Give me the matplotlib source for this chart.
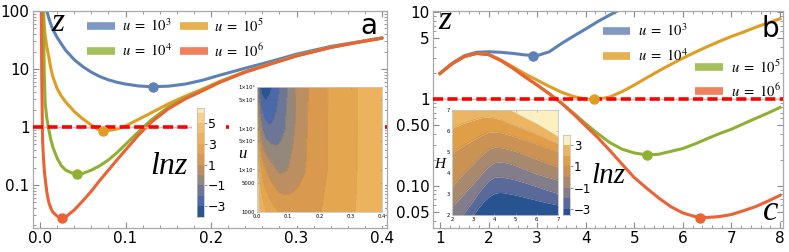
import numpy as np
import matplotlib
matplotlib.use('Agg')
import matplotlib.pyplot as plt
from matplotlib.ticker import FixedLocator, NullFormatter, MultipleLocator, LogLocator
from matplotlib.patches import Rectangle

plt.rcParams['mathtext.fontset'] = 'stix'
plt.rcParams['font.family'] = ['DejaVu Sans']

W, H = 789, 252

# ---------------- panel a data (z vs x) ----------------
xa = [0.001, 0.002, 0.003, 0.004, 0.005, 0.006, 0.008, 0.01, 0.0125, 0.015,
      0.02, 0.025, 0.03, 0.04, 0.05, 0.06, 0.07, 0.08, 0.09, 0.1,
      0.115, 0.13, 0.15, 0.17, 0.19, 0.21, 0.24, 0.27, 0.3, 0.34, 0.37, 0.4]
za_blue = [20000, 8000, 2000, 800, 400, 160, 100, 78, 60, 48,
           35, 27, 21, 14.5, 11, 8.8, 7.4, 6.5, 5.9, 5.5,
           5.1, 4.95, 5.05, 5.5, 6.4, 7.8, 10.3, 13.5, 18, 24.5, 29, 34.5]
za_orange = [8000, 2000, 400, 110, 55, 38, 24, 17, 10.5, 7.3,
             4.6, 3.4, 2.7, 1.85, 1.38, 1.08, 0.87, 0.87, 0.92, 1.04,
             1.35, 1.75, 2.5, 3.4, 4.5, 6.1, 9.0, 12.4, 17, 23.7, 28.7, 34]
za_green = [50000, 1500, 400, 80, 8, 2.6, 1.4, 0.95, 0.62, 0.45,
            0.29, 0.215, 0.18, 0.155, 0.158, 0.18, 0.215, 0.27, 0.36, 0.5,
            0.82, 1.32, 2.2, 3.2, 4.3, 5.95, 8.9, 12.3, 16.9, 23.6, 28.6, 34]
za_red = [2000, 8, 0.6, 0.3, 0.18, 0.13, 0.075, 0.052, 0.04, 0.034,
          0.029, 0.0266, 0.028, 0.037, 0.053, 0.078, 0.12, 0.18, 0.27, 0.4,
          0.72, 1.2, 2.05, 3.05, 4.2, 5.85, 8.8, 12.2, 16.8, 23.5, 28.5, 34]
mins_a_x = [0.132, 0.074, 0.043, 0.0253]
mins_a_z = [4.95, 0.853, 0.153, 0.0266]
legend_a = [r'$u\ =\ 10^{3}$', r'$u\ =\ 10^{5}$', r'$u\ =\ 10^{4}$', r'$u\ =\ 10^{6}$']
# u values of the rows used in the inset (ordering seen in the inset contours)
inset_a_logu = [3, 4, 5, 6]

# ---------------- panel b data ----------------
xb = [1.0, 1.25, 1.5, 1.75, 2.0, 2.25, 2.5, 2.75, 3.0, 3.25, 3.5, 3.75, 4.0, 4.25,
      4.5, 4.75, 5.0, 5.25, 5.5, 5.75, 6.0, 6.25, 6.5, 6.75, 7.0, 7.25, 7.5, 7.75, 8.0]
zb_blue = [1.97, 2.58, 3.15, 3.45, 3.5, 3.45, 3.35, 3.22, 3.16, 3.5, 4.35, 5.3, 6.4,
           7.8, 9.3, 11, 13]
zb_orange = [1.97, 2.55, 3.08, 3.35, 3.27, 2.82, 2.35, 1.95, 1.65, 1.4, 1.2, 1.07, 1.0,
             0.99, 1.06, 1.22, 1.45, 1.75, 2.1, 2.5, 2.95, 3.45, 4.0, 4.6, 5.25, 5.9,
             6.7, 7.5, 8.4]
zb_green = [1.97, 2.55, 3.08, 3.35, 3.25, 2.78, 2.27, 1.8, 1.45, 1.15, 0.9, 0.69, 0.52,
            0.4, 0.315, 0.265, 0.24, 0.228, 0.232, 0.25, 0.27, 0.305, 0.35, 0.4, 0.45,
            0.52, 0.6, 0.69, 0.8]
zb_red = [1.97, 2.55, 3.08, 3.35, 3.25, 2.78, 2.27, 1.8, 1.45, 1.15, 0.9, 0.67, 0.49,
          0.36, 0.255, 0.178, 0.125, 0.095, 0.073, 0.058, 0.049, 0.0445, 0.0435,
          0.0445, 0.047, 0.052, 0.058, 0.067, 0.078]
mins_b_x = [2.91, 4.17, 5.26, 6.35]
mins_b_z = [3.15, 0.99, 0.227, 0.0434]
legend_b = [r'$u\ =\ 10^{3}$', r'$u\ =\ 10^{4}$', r'$u\ =\ 10^{5}$', r'$u\ =\ 10^{6}$']

# ---------------- inset b: contour lines H(x) for levels -3..3 ----------------
ib_x = [2, 2.5, 3, 3.25, 3.5, 3.75, 4, 4.25, 4.5, 4.75, 5, 5.5, 6, 6.5, 7]
ib_lm3 = [1.0, 1.5, 2.0, 2.35, 2.65, 2.88, 3.03, 3.08, 3.05, 3.0, 2.95, 2.83, 2.7, 2.58, 2.48]
ib_lm2 = [1.5, 2.0, 2.7, 3.07, 3.37, 3.65, 3.8, 3.82, 3.78, 3.73, 3.67, 3.52, 3.35, 3.18, 3.03]
ib_lm1 = [2.4, 2.95, 3.5, 3.8, 4.08, 4.35, 4.5, 4.53, 4.5, 4.43, 4.35, 4.15, 3.95, 3.8, 3.67]
ib_l0 = [3.35, 3.95, 4.46, 4.72, 4.95, 5.15, 5.23, 5.22, 5.17, 5.1, 5.03, 4.85, 4.65, 4.47, 4.3]
ib_l1 = [4.94, 5.3, 5.57, 5.72, 5.85, 5.95, 5.96, 5.93, 5.87, 5.8, 5.72, 5.55, 5.38, 5.2, 5.02]
ib_l2 = [6.13, 6.35, 6.52, 6.6, 6.66, 6.67, 6.62, 6.55, 6.45, 6.35, 6.25, 6.05, 5.85, 5.62, 5.4]
ib_l3 = [7.6, 7.6, 7.6, 7.6, 7.6, 7.5, 7.4, 7.27, 7.12, 7.0, 6.87, 6.6, 6.35, 6.05, 5.75]

# ---------------- styling ----------------
C_BLUE, C_ORANGE, C_GREEN, C_RED = '#5E81B5', '#E19C24', '#8FB032', '#EB6235'
cols_a = ['#28548F', '#4A69A6', '#6E7698', '#94877C', '#BB8F62', '#D99A4F',
          '#E5A650', '#ECB25E', '#F0BE72', '#F5CF8E', '#FBE9B8']
edges_a = [-4.05, -3, -2, -1, 0, 1, 2, 3, 4, 5, 6, 6.45]
cols_b = ['#285391', '#58699A', '#837C8A', '#A8896E', '#CA9353', '#E19E48',
          '#ECB563', '#FCEFC0']
edges_b = [-3.56, -3, -2, -1, 0, 1, 2, 3, 3.93]
FRAME = '#A8A8A8'


def rect(x0, y0, x1, y1):
    return [x0 / W, 1 - y1 / H, (x1 - x0) / W, (y1 - y0) / H]


def ftext(px, py, s, **kw):
    fig.text(px / W, 1 - py / H, s, ha='center', va='center', **kw)


def style_main(ax):
    for sp in ax.spines.values():
        sp.set_color(FRAME)
        sp.set_linewidth(0.9)
    ax.tick_params(which='both', direction='in', top=True, right=True,
                   color='#8A8A8A', labelsize=11, pad=2.5)
    ax.tick_params(which='major', length=4, width=0.8)
    ax.tick_params(which='minor', length=2, width=0.6)


fig = plt.figure(figsize=(W / 100, H / 100), dpi=100)

# ================= panel a =================
axa = fig.add_axes(rect(33, 11, 387, 228))
axa.set_yscale('log')
for z, c in zip([za_blue, za_orange, za_green, za_red], [C_BLUE, C_ORANGE, C_GREEN, C_RED]):
    axa.plot(xa, z, color=c, lw=2.2, zorder=2, solid_capstyle='round')
axa.axhline(1, color='#FFB0B0', lw=1.0, zorder=3)
axa.axhline(1, color='#FF0000', lw=2.6, dashes=(2.8, 1.2), zorder=3)
for mx, mz, c in zip(mins_a_x, mins_a_z, [C_BLUE, C_ORANGE, C_GREEN, C_RED]):
    axa.plot([mx], [mz], 'o', color=c, ms=6.5, zorder=4)
axa.set_xlim(-0.0082, 0.4058)
axa.set_ylim(0.0181, 100)
axa.xaxis.set_major_locator(FixedLocator([0, 0.1, 0.2, 0.3, 0.4]))
axa.set_xticklabels(['0.0', '0.1', '0.2', '0.3', '0.4'])
axa.xaxis.set_minor_locator(MultipleLocator(0.02))
axa.yaxis.set_major_locator(FixedLocator([0.1, 1, 10, 100]))
axa.set_yticklabels(['0.1', '1', '10', '100'])
axa.yaxis.set_minor_locator(LogLocator(base=10, subs=np.arange(2, 10)))
axa.yaxis.set_minor_formatter(NullFormatter())
style_main(axa)

# legend a
leg_pos_a = [(0.153, 0.232, 0.931, 0.25), (0.415, 0.494, 0.931, 0.512),
             (0.153, 0.232, 0.816, 0.25), (0.415, 0.494, 0.816, 0.512)]
for (x0, x1, y, tx), lab, c in zip(leg_pos_a, legend_a, [C_BLUE, C_ORANGE, C_GREEN, C_RED]):
    axa.plot([x0, x1], [y, y], transform=axa.transAxes, color=c, lw=5.5, alpha=0.8,
             solid_capstyle='butt', zorder=6, clip_on=False)
    axa.text(tx, y, lab, transform=axa.transAxes, fontsize=10.5, va='center', ha='left', zorder=6)

# white backgrounds for inset a and its colour bar
fig.add_artist(Rectangle((192 / W, 1 - 221 / H), 34 / W, 117 / H, transform=fig.transFigure,
                         facecolor='white', edgecolor='none', zorder=2))
fig.add_artist(Rectangle((229 / W, 1 - 226 / H), 156 / W, 143 / H, transform=fig.transFigure,
                         facecolor='white', edgecolor='none', zorder=2))

# inset a contour
axia = fig.add_axes(rect(257, 87, 382, 212), zorder=3)
Za = np.log(np.array([za_blue, za_orange, za_green, za_red], dtype=float))
Za = np.clip(Za, None, 6.4)
axia.contourf(xa, inset_a_logu, Za, levels=edges_a, colors=cols_a)
axia.contour(xa, inset_a_logu, Za, levels=edges_a[1:-1], colors='k', alpha=0.12, linewidths=0.4)
axia.set_xlim(0, 0.4)
axia.set_ylim(3, 6)
axia.set_xticks([0, 0.1, 0.2, 0.3, 0.4])
axia.set_xticklabels(['0.0', '0.1', '0.2', '0.3', '0.4'])
axia.set_yticks(np.log10([1000, 5000, 1e4, 5e4, 1e5, 5e5, 1e6]))
axia.set_yticklabels(['1000', '5000', '1×10⁴', '5×10⁴', '1×10⁵', '5×10⁵', '1×10⁶'])
for sp in axia.spines.values():
    sp.set_color('#C8C8C8')
    sp.set_linewidth(0.6)
axia.tick_params(direction='in', length=1.5, width=0.4, labelsize=3.8, pad=1.2, color='#999999',
                 top=True, right=True)
axia.tick_params(axis='x', pad=1.8)

# colour bar a
caxa = fig.add_axes(rect(197, 108, 204, 217), zorder=3)
for lo, hi, c in zip(edges_a[:-1], edges_a[1:], cols_a):
    caxa.axhspan(lo, hi, color=c, lw=0)
caxa.set_ylim(edges_a[0], edges_a[-1])
caxa.set_xlim(0, 1)
caxa.set_xticks([])
caxa.yaxis.tick_right()
caxa.set_yticks([-3, -1, 1, 3, 5])
caxa.set_yticklabels(['\u22123', '\u22121', '1', '3', '5'])
caxa.tick_params(axis='y', length=2, width=0.5, labelsize=9, pad=1, color='#666666')
for sp in caxa.spines.values():
    sp.set_color('#BBBBBB')
    sp.set_linewidth(0.5)

# ================= panel b =================
axb = fig.add_axes(rect(433, 11, 783, 228))
axb.set_yscale('log')
axb.plot(xb[:len(zb_blue)], zb_blue, color=C_BLUE, lw=2.2, zorder=2)
for z, c in zip([zb_orange, zb_green, zb_red], [C_ORANGE, C_GREEN, C_RED]):
    axb.plot(xb, z, color=c, lw=2.2, zorder=2)
axb.axhline(1, color='#FFB0B0', lw=1.0, zorder=3)
axb.axhline(1, color='#FF0000', lw=2.6, dashes=(2.8, 1.2), zorder=3)
for mx, mz, c in zip(mins_b_x, mins_b_z, [C_BLUE, C_ORANGE, C_GREEN, C_RED]):
    axb.plot([mx], [mz], 'o', color=c, ms=6.5, zorder=4)
axb.set_xlim(0.856, 8.062)
axb.set_ylim(0.0329, 10.3)
axb.xaxis.set_major_locator(FixedLocator(list(range(1, 9))))
axb.set_xticklabels([str(i) for i in range(1, 9)])
axb.xaxis.set_minor_locator(MultipleLocator(0.2))
axb.yaxis.set_major_locator(FixedLocator([0.05, 0.1, 0.5, 1, 5, 10]))
axb.set_yticklabels(['0.05', '0.10', '0.50', '1', '5', '10'])
axb.yaxis.set_minor_locator(LogLocator(base=10, subs=[2, 3, 4, 6, 7, 8, 9]))
axb.yaxis.set_minor_formatter(NullFormatter())
style_main(axb)

leg_pos_b = [(0.486, 0.563, 0.908, 0.586), (0.486, 0.563, 0.793, 0.586),
             (0.749, 0.829, 0.742, 0.851), (0.749, 0.829, 0.631, 0.851)]
for (x0, x1, y, tx), lab, c in zip(leg_pos_b, legend_b, [C_BLUE, C_ORANGE, C_GREEN, C_RED]):
    axb.plot([x0, x1], [y, y], transform=axb.transAxes, color=c, lw=5.5, alpha=0.8,
             solid_capstyle='butt', zorder=6, clip_on=False)
    axb.text(tx, y, lab, transform=axb.transAxes, fontsize=10.5, va='center', ha='left', zorder=6)

# inset b
axib = fig.add_axes(rect(452, 110, 558, 215), zorder=3)
lines_b = [ib_lm3, ib_lm2, ib_lm1, ib_l0, ib_l1, ib_l2, ib_l3]
bounds = [[0] * len(ib_x)] + lines_b + [[8] * len(ib_x)]
for lo, hi, c in zip(bounds[:-1], bounds[1:], cols_b):
    axib.fill_between(ib_x, lo, hi, color=c, lw=0)
for ln in lines_b:
    axib.plot(ib_x, ln, color='k', alpha=0.12, lw=0.4)
axib.set_xlim(2, 7)
axib.set_ylim(2, 7)
axib.set_xticks(range(2, 8))
axib.set_yticks(range(2, 8))
for sp in axib.spines.values():
    sp.set_color('#C8C8C8')
    sp.set_linewidth(0.6)
axib.tick_params(direction='in', length=1.5, width=0.4, labelsize=3.8, pad=1.2, color='#999999',
                 top=True, right=True)

caxb = fig.add_axes(rect(563, 135, 570, 215), zorder=3)
for lo, hi, c in zip(edges_b[:-1], edges_b[1:], cols_b):
    caxb.axhspan(lo, hi, color=c, lw=0)
caxb.set_ylim(edges_b[0], edges_b[-1])
caxb.set_xlim(0, 1)
caxb.set_xticks([])
caxb.yaxis.tick_right()
caxb.set_yticks([-3, -1, 1, 3])
caxb.set_yticklabels(['\u22123', '\u22121', '1', '3'])
caxb.tick_params(axis='y', length=2, width=0.5, labelsize=8.5, pad=1, color='#666666')
for sp in caxb.spines.values():
    sp.set_color('#BBBBBB')
    sp.set_linewidth(0.5)

# ================= texts =================
serif_it = dict(family='Liberation Serif', style='italic', zorder=7)
ftext(58, 23, 'z', fontsize=24, **serif_it)
ftext(445, 21, 'z', fontsize=24, **serif_it)
ftext(369, 26, 'a', fontsize=20, zorder=7)
ftext(770, 29, 'b', fontsize=20, zorder=7)
ftext(771, 212, 'c', fontsize=25, **serif_it)
ftext(169, 166, 'lnz', fontsize=23, **serif_it)
ftext(609, 176, 'lnz', fontsize=21, **serif_it)
ftext(242, 154, 'u', fontsize=12, **serif_it)
ftext(440, 164, 'H', fontsize=11, **serif_it)

fig.savefig('out.png', dpi=100)
